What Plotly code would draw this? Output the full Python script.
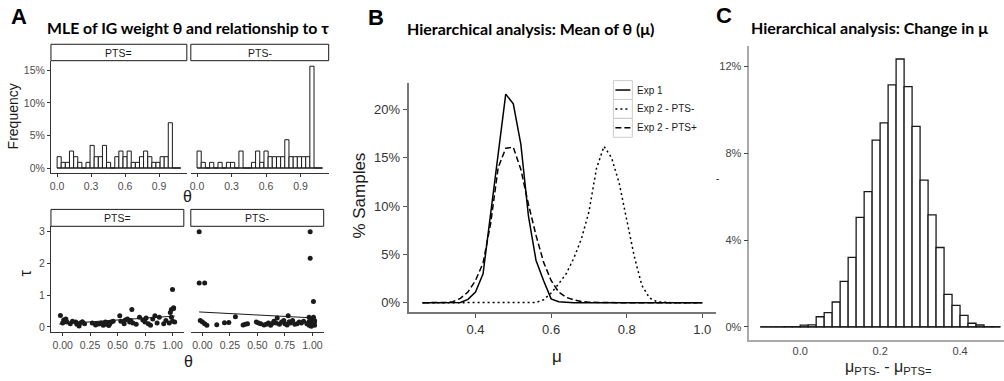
import plotly.graph_objects as go

# ---------------- Panel A (top): histogram of MLE theta, % of participants ----------------
theta_bin_centers = [0.018, 0.054, 0.091, 0.127, 0.164, 0.200, 0.236, 0.273, 0.309, 0.345,
                     0.382, 0.418, 0.454, 0.491, 0.527, 0.563, 0.600, 0.636, 0.672, 0.709,
                     0.745, 0.781, 0.818, 0.854, 0.890, 0.927, 0.963, 0.999, 1.036, 1.072]
theta_bin_width = 0.0363
freq_pts_eq = [1.74, 0.87, 0.87, 2.61, 1.74, 0.87, 0, 0.87, 3.48, 1.74,
               1.74, 3.48, 0.87, 0, 1.74, 2.61, 1.74, 2.61, 0.87, 0.87,
               1.74, 2.61, 1.74, 0.87, 0.87, 1.74, 1.74, 6.96, 0, 0]
freq_pts_minus = [2.61, 0.87, 0, 0.87, 0, 0.87, 0, 0.87, 0.87, 0,
                  2.61, 0, 0, 0.87, 2.61, 0.87, 2.61, 1.74, 1.74, 1.74,
                  1.74, 4.35, 1.74, 1.74, 1.74, 1.74, 1.74, 15.65, 0, 0]
facet_labels = ["PTS=", "PTS-"]

# ---------------- Panel A (bottom): theta vs tau scatter ----------------
theta_pts_eq = [-0.02, 0.01, 0.00, 0.04, 0.03, 0.07, 0.09, 0.12, 0.13, 0.15,
                0.16, 0.18, 0.20, 0.27, 0.30, 0.31, 0.33, 0.35, 0.37, 0.39,
                0.40, 0.41, 0.42, 0.43, 0.44, 0.46, 0.52, 0.53, 0.56, 0.57,
                0.59, 0.61, 0.63, 0.62, 0.64, 0.67, 0.70, 0.73, 0.75, 0.76,
                0.78, 0.80, 0.82, 0.84, 0.86, 0.88, 0.92, 0.94, 0.97, 0.99,
                1.00, 1.01, 0.98, 1.02, 1.00, 0.99, 1.01]
tau_pts_eq = [0.36, 0.22, 0.12, 0.15, 0.25, 0.10, 0.18, 0.15, 0.08, 0.03,
              0.12, 0.16, 0.10, 0.12, 0.06, 0.10, 0.09, 0.12, 0.05, 0.15,
              0.08, 0.13, 0.04, 0.10, 0.15, 0.18, 0.35, 0.18, 0.10, 0.22,
              0.25, 0.15, 0.55, 0.20, 0.12, 0.08, 0.30, 0.22, 0.15, 0.28,
              0.10, 0.05, 0.25, 0.35, 0.12, 0.30, 0.10, 0.20, 0.12, 0.55,
              1.18, 0.60, 0.45, 0.15, 0.18, 0.30, 0.58]
theta_pts_minus = [-0.03, -0.03, 0.02, -0.02, 0.00, 0.02, 0.04, 0.13, 0.20, 0.24,
                   0.30, 0.37, 0.39, 0.41, 0.49, 0.51, 0.53, 0.56, 0.58, 0.60,
                   0.62, 0.63, 0.65, 0.67, 0.68, 0.70, 0.72, 0.74, 0.75, 0.77,
                   0.78, 0.79, 0.80, 0.82, 0.84, 0.86, 0.88, 0.90, 0.92, 0.95,
                   0.97, 0.98, 0.98, 1.01, 0.97, 0.98, 0.99, 1.00, 1.01, 1.02,
                   0.99, 1.00, 1.02, 0.98, 1.01, 1.00, 0.99, 1.02, 0.97, 1.01]
tau_pts_minus = [3.00, 1.38, 1.38, 0.20, 0.15, 0.10, 0.05, 0.07, 0.13, 0.14,
                 0.32, 0.06, 0.08, 0.10, 0.15, 0.12, 0.10, 0.06, 0.08, 0.12,
                 0.05, 0.10, 0.18, 0.12, 0.28, 0.08, 0.15, 0.20, 0.10, 0.06,
                 0.35, 0.16, 0.12, 0.20, 0.08, 0.10, 0.15, 0.12, 0.18, 0.10,
                 0.30, 3.00, 2.16, 0.80, 0.05, 0.12, 0.20, 0.25, 0.08, 0.15,
                 0.02, 0.10, 0.05, 0.18, 0.30, 0.14, 0.09, 0.20, 0.16, 0.12]
fit_theta_pts_eq = [-0.03, 1.02]
fit_tau_pts_eq = [0.09, 0.34]
fit_theta_pts_minus = [-0.03, 1.02]
fit_tau_pts_minus = [0.47, 0.28]

# ---------------- Panel B: posterior of mu (% samples) ----------------
mu_grid = [0.26, 0.28, 0.30, 0.32, 0.34, 0.36, 0.38, 0.40, 0.42, 0.44,
           0.46, 0.48, 0.50, 0.52, 0.54, 0.56, 0.58, 0.60, 0.62, 0.64,
           0.66, 0.68, 0.70, 0.72, 0.74, 0.76, 0.78, 0.80, 0.82, 0.84,
           0.86, 0.88, 0.90, 0.92, 0.94, 0.96, 0.98, 1.00]
pct_exp1 = [0, 0, 0, 0, 0, 0.02, 0.35, 1.1, 3.0, 9.0,
            15.5, 21.6, 20.6, 16.4, 9.0, 4.4, 2.3, 0.4, 0.1, 0.02,
            0, 0, 0, 0, 0, 0, 0, 0, 0, 0,
            0, 0, 0, 0, 0, 0, 0, 0]
pct_exp2_minus = [0, 0, 0, 0, 0, 0, 0, 0, 0, 0,
                  0, 0, 0, 0, 0, 0.02, 0.3, 1.0, 1.95, 3.0,
                  4.6, 6.6, 9.4, 13.9, 16.2, 15.0, 12.4, 8.5, 4.8, 1.8,
                  0.5, 0.1, 0.02, 0, 0, 0, 0, 0]
pct_exp2_plus = [0, 0, 0, 0.02, 0.1, 0.45, 1.1, 2.3, 4.1, 8.2,
                 14.0, 16.0, 16.1, 13.8, 10.2, 7.0, 4.2, 2.3, 1.1, 0.55,
                 0.3, 0.12, 0.05, 0.02, 0, 0, 0, 0, 0, 0,
                 0, 0, 0, 0, 0, 0, 0, 0]
series_names = ["Exp 1", "Exp 2 - PTS-", "Exp 2 - PTS+"]

# ---------------- Panel C: posterior of mu difference ----------------
diff_bin_centers = [-0.09, -0.07, -0.05, -0.03, -0.01, 0.01, 0.03, 0.05, 0.07, 0.09,
                    0.11, 0.13, 0.15, 0.17, 0.19, 0.21, 0.23, 0.25, 0.27, 0.29,
                    0.31, 0.33, 0.35, 0.37, 0.39, 0.41, 0.43, 0.45, 0.47, 0.49]
diff_bin_width = 0.02
pct_diff = [0.0, 0.0, 0.005, 0.01, 0.02, 0.08, 0.10, 0.47, 0.66, 1.15,
            2.10, 3.20, 5.05, 6.23, 8.60, 9.40, 11.15, 12.34, 11.07, 9.24,
            6.76, 5.16, 3.66, 1.50, 0.99, 0.53, 0.17, 0.09, 0.02, 0.01]

# ---------------- layout helpers ----------------
W, H = 1004, 381


def X(p):
    return p / W


def Y(p):
    return 1 - p / H


SANS = "Liberation Sans, Arial, Helvetica, sans-serif"
BOLD = "Lato, Open Sans, sans-serif"
INK = "#1a1a1a"

fig = go.Figure()

# A top histograms
for ax, freq in (("", freq_pts_eq), ("2", freq_pts_minus)):
    fig.add_trace(go.Bar(x=theta_bin_centers, y=freq, width=theta_bin_width,
                         marker=dict(color="white", line=dict(color=INK, width=1)),
                         xaxis="x" + ax, yaxis="y" + ax, showlegend=False))
    lo = theta_bin_centers[0] - theta_bin_width / 2
    hi = theta_bin_centers[-1] + theta_bin_width / 2
    fig.add_trace(go.Scatter(x=[lo, hi], y=[0, 0], mode="lines",
                             line=dict(color=INK, width=1),
                             xaxis="x" + ax, yaxis="y" + ax, showlegend=False,
                             hoverinfo="skip"))

# A bottom scatter
for ax, tx, ty, fx, fy in (("3", theta_pts_eq, tau_pts_eq, fit_theta_pts_eq, fit_tau_pts_eq),
                           ("4", theta_pts_minus, tau_pts_minus, fit_theta_pts_minus, fit_tau_pts_minus)):
    fig.add_trace(go.Scatter(x=tx, y=ty, mode="markers",
                             marker=dict(color=INK, size=5),
                             xaxis="x" + ax, yaxis="y" + ax, showlegend=False))
    fig.add_trace(go.Scatter(x=fx, y=fy, mode="lines",
                             line=dict(color=INK, width=1),
                             xaxis="x" + ax, yaxis="y" + ax, showlegend=False))

# B lines
dashes = ["solid", "2px,3px", "6px,3px"]
for name, vals, dsh in zip(series_names, [pct_exp1, pct_exp2_minus, pct_exp2_plus], dashes):
    fig.add_trace(go.Scatter(x=mu_grid, y=vals, mode="lines", name=name,
                             line=dict(color="black", width=1.5, dash=dsh),
                             xaxis="x5", yaxis="y5", showlegend=False))

# C histogram
fig.add_trace(go.Bar(x=diff_bin_centers, y=pct_diff, width=diff_bin_width,
                     marker=dict(color="white", line=dict(color=INK, width=1.3)),
                     xaxis="x6", yaxis="y6", showlegend=False))
fig.add_trace(go.Scatter(x=[diff_bin_centers[0] - diff_bin_width / 2,
                            diff_bin_centers[-1] + diff_bin_width / 2],
                         y=[0, 0], mode="lines", line=dict(color=INK, width=1.3),
                         xaxis="x6", yaxis="y6", showlegend=False))


def axis(domain, rng, **kw):
    d = dict(domain=domain, range=rng, showgrid=False, zeroline=False,
             fixedrange=True)
    d.update(kw)
    return d


tickA = dict(family=SANS, size=10.5, color="#4d4d4d")
ydomA1 = [Y(173), Y(60)]
ydomA2 = [Y(333), Y(226.5)]
theta_ticks = [0, 0.3, 0.6, 0.9]
theta_ticktext = ["0.0", "0.3", "0.6", "0.9"]
scat_ticks = [0, 0.25, 0.5, 0.75, 1.0]
scat_ticktext = ["0.00", "0.25", "0.50", "0.75", "1.00"]

common_x = dict(showline=True, linecolor="#333", linewidth=1, ticks="outside",
                ticklen=3, tickcolor="#333", tickfont=tickA)

fig.update_layout(
    width=W, height=H, autosize=False,
    margin=dict(l=0, r=0, t=0, b=0),
    paper_bgcolor="white", plot_bgcolor="white",
    showlegend=False,
    xaxis=axis([X(50), X(186)], [-0.0545, 1.1445], anchor="y",
               tickvals=theta_ticks, ticktext=theta_ticktext, **common_x),
    yaxis=axis(ydomA1, [-0.78, 16.5], anchor="x", tickvals=[0, 5, 10, 15],
               ticktext=["0%", "5%", "10%", "15%"], showline=True, linecolor="#333",
               linewidth=1, ticks="outside", ticklen=3, tickcolor="#333", tickfont=tickA),
    xaxis2=axis([X(190), X(328)], [-0.0545, 1.1445], anchor="y2",
                tickvals=theta_ticks, ticktext=theta_ticktext, **common_x),
    yaxis2=axis(ydomA1, [-0.78, 16.5], anchor="x2", showticklabels=False,
                showline=False, ticks=""),
    xaxis3=axis([X(50), X(183)], [-0.106, 1.103], anchor="y3",
                tickvals=scat_ticks, ticktext=scat_ticktext, **common_x),
    yaxis3=axis(ydomA2, [-0.17, 3.17], anchor="x3", tickvals=[0, 1, 2, 3],
                showline=True, linecolor="#333", linewidth=1, ticks="outside",
                ticklen=3, tickcolor="#333", tickfont=tickA),
    xaxis4=axis([X(190), X(323)], [-0.106, 1.103], anchor="y4",
                tickvals=scat_ticks, ticktext=scat_ticktext, **common_x),
    yaxis4=axis(ydomA2, [-0.17, 3.17], anchor="x4", showticklabels=False,
                showline=False, ticks=""),
    xaxis5=axis([X(408), X(716)], [0.223, 1.037], anchor="y5",
                tickvals=[0.4, 0.6, 0.8, 1.0], ticktext=["0.4", "0.6", "0.8", "1.0"],
                showline=True, linecolor="#777", linewidth=2, ticks="outside",
                ticklen=4, tickcolor="#555",
                tickfont=dict(family=SANS, size=13, color="#333")),
    yaxis5=axis([Y(313), Y(82)], [-1.0, 22.8], anchor="x5",
                tickvals=[0, 5, 10, 15, 20], ticktext=["0%", "5%", "10%", "15%", "20%"],
                showline=True, linecolor="#777", linewidth=2, ticks="outside",
                ticklen=4, tickcolor="#555",
                tickfont=dict(family=SANS, size=13, color="#333")),
    xaxis6=axis([X(749), X(1004)], [-0.1275, 0.51], anchor="y6",
                tickvals=[0.0, 0.2, 0.4], ticktext=["0.0", "0.2", "0.4"],
                showline=True, linecolor="#aaa", linewidth=1.5, ticks="",
                tickfont=dict(family=SANS, size=11, color="#444")),
    yaxis6=axis([Y(341), Y(45)], [-0.61, 12.95], anchor="x6",
                tickvals=[0, 4, 8, 12], ticktext=["0%", "4%", "8%", "12%"],
                showline=True, linecolor="#aaa", linewidth=1.5, ticks="outside",
                ticklen=4, tickcolor="#444",
                tickfont=dict(family=SANS, size=11, color="#444")),
)

shapes = []
annotations = []


def ann(text, x, y, size, family=SANS, color=INK, angle=0, xanchor="center"):
    annotations.append(dict(text=text, x=X(x), y=Y(y), xref="paper", yref="paper",
                            showarrow=False, xanchor=xanchor, yanchor="middle",
                            textangle=angle, font=dict(family=family, size=size, color=color)))


# facet strips
strips = [((50, 43.5, 186, 60), facet_labels[0]), ((190, 43.5, 328, 60), facet_labels[1]),
          ((50, 209.5, 183, 226.5), facet_labels[0]), ((190, 209.5, 323, 226.5), facet_labels[1])]
for (x0, y0, x1, y1), lab in strips:
    shapes.append(dict(type="rect", xref="paper", yref="paper", x0=X(x0), x1=X(x1),
                       y0=Y(y1), y1=Y(y0), line=dict(color=INK, width=1), fillcolor="white"))
    ann(lab, (x0 + x1) / 2, (y0 + y1) / 2 + 0.5, 10.5, color=INK)

# panel letters and titles
ann("<b>A</b>", 18, 16, 22, family=SANS, color="black")
ann("<b>B</b>", 375, 17, 22, family=SANS, color="black")
ann("<b>C</b>", 724, 15, 22, family=SANS, color="black")
ann("<b>MLE of IG weight θ and relationship to τ</b>", 187, 27, 15.8, family=BOLD, color="black")
ann("<b>Hierarchical analysis: Mean of θ (μ)</b>", 530, 28, 16, family=BOLD, color="black")
ann("<b>Hierarchical analysis: Change in μ</b>", 869, 27, 16, family=BOLD, color="black")

# axis titles
ann("Frequency", 12, 116, 14, angle=-90, color=INK)
ann("θ", 187, 197, 16, color=INK)
ann("τ", 25, 273, 16, angle=-90, color=INK)
ann("θ", 188, 362, 16, color=INK)
ann("% Samples", 359, 196, 17, angle=-90, color=INK)
ann("μ", 557, 357, 17, color=INK)
ann("μ<sub>PTS-</sub> - μ<sub>PTS=</sub>", 888, 368, 16, color="#222")
ann("-", 717, 178, 10, color=INK)

# legend of panel B
rows = [(80, 99), (99, 118), (118, 137)]
for (r0, r1), name, dsh in zip(rows, series_names, dashes):
    shapes.append(dict(type="rect", xref="paper", yref="paper", x0=X(613), x1=X(632),
                       y0=Y(r1), y1=Y(r0), line=dict(color="#cccccc", width=1)))
    ym = (r0 + r1) / 2
    shapes.append(dict(type="line", xref="paper", yref="paper", x0=X(615), x1=X(630),
                       y0=Y(ym), y1=Y(ym), line=dict(color="black", width=1.5, dash=dsh)))
    ann(name, 635, ym, 10, xanchor="left", color=INK)

fig.update_layout(shapes=shapes, annotations=annotations)
fig.write_html("out.html")
